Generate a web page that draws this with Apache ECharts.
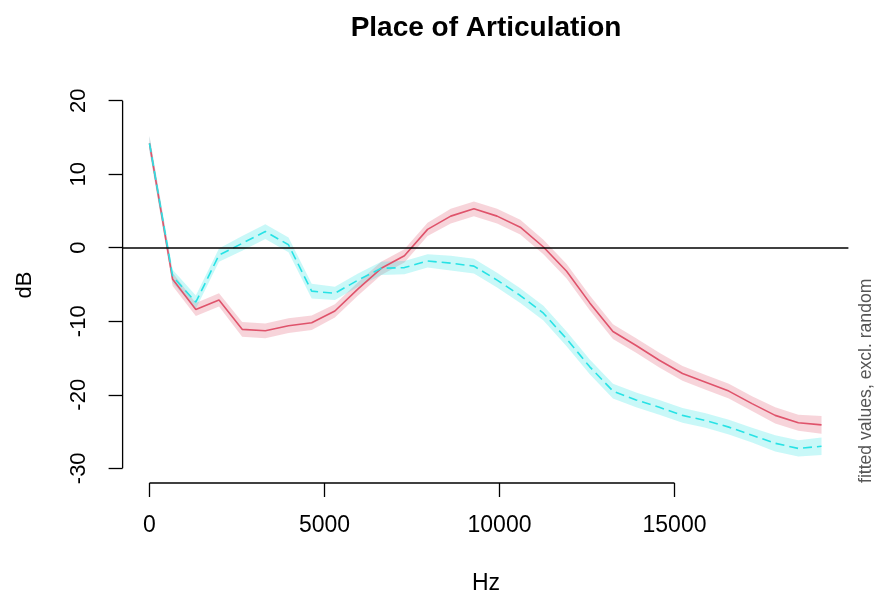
<!DOCTYPE html>
<html>
<head>
<meta charset="utf-8">
<script src="https://cdn.jsdelivr.net/npm/echarts@6/dist/echarts.min.js"></script>
<style>
html,body{margin:0;padding:0;background:#fff;}
#chart{width:875px;height:594px;}
</style>
</head>
<body>
<div id="chart"></div>
<script>
// ---- data ----
var hz = [0, 662, 1324, 1986, 2648, 3310, 3972, 4634, 5297, 5959,
          6621, 7283, 7945, 8607, 9269, 9931, 10593, 11255, 11917, 12579,
          13241, 13903, 14566, 15228, 15890, 16552, 17214, 17876, 18538, 19200];
var redFit = [14.2, -4.3, -8.4, -7.1, -11.1, -11.3, -10.6, -10.2, -8.6, -5.6,
              -2.8, -1.1, 2.5, 4.3, 5.3, 4.3, 2.8, 0.1, -3.2, -7.5,
              -11.4, -13.3, -15.3, -17.1, -18.3, -19.5, -21.2, -22.8, -23.8, -24.1];
var redCI = [1.0, 0.9, 0.9, 0.9, 1.0, 1.0, 1.0, 1.0, 0.9, 0.9,
             0.9, 0.9, 0.9, 1.0, 1.0, 1.0, 1.0, 1.0, 1.0, 1.0,
             1.0, 1.0, 1.0, 1.0, 1.0, 1.0, 1.0, 1.1, 1.1, 1.2];
var cyanFit = [14.2, -3.9, -7.4, -1.0, 0.6, 2.2, 0.4, -5.9, -6.2, -4.4,
               -2.8, -2.7, -1.8, -2.1, -2.5, -4.4, -6.5, -8.9, -12.4, -16.2,
               -19.5, -20.7, -21.7, -22.8, -23.5, -24.4, -25.5, -26.6, -27.3, -27.0];
var cyanCI = [1.0, 0.9, 0.9, 0.9, 1.0, 1.0, 1.0, 1.0, 0.9, 0.9,
              0.9, 0.9, 0.9, 1.0, 1.0, 1.0, 1.0, 1.0, 1.0, 1.0,
              1.0, 1.0, 1.0, 1.0, 1.0, 1.0, 1.0, 1.1, 1.1, 1.2];
var xTicks = [0, 5000, 10000, 15000];
var yTicks = [-30, -20, -10, 0, 10, 20];
var titleText = 'Place of Articulation';
var xName = 'Hz';
var yName = 'dB';
var sideNote = 'fitted values, excl. random';

// ---- layout ----
var XMIN = -768, XMAX = 19968, YMIN = -32, YMAX = 22;
var FONT = '"Liberation Sans", Arial, Helvetica, sans-serif';
var RED = '#DF536B', CYAN = '#28E2E5';

function pairs(xs, ys) { return xs.map(function (x, i) { return [x, ys[i]]; }); }

var chart = echarts.init(document.getElementById('chart'), null, {renderer: 'canvas'});

function band(name, fit, ci, color) {
  var data = hz.map(function (x, i) { return [x, fit[i] - ci[i], fit[i] + ci[i]]; });
  return {
    name: name + 'band', type: 'custom', silent: true, z: 1,
    encode: {x: 0, y: [1, 2]},
    data: data,
    renderItem: function (params, api) {
      if (params.dataIndex !== 0) return null;
      var pts = [], i;
      for (i = 0; i < data.length; i++) pts.push(api.coord([data[i][0], data[i][2]]));
      for (i = data.length - 1; i >= 0; i--) pts.push(api.coord([data[i][0], data[i][1]]));
      return {type: 'polygon', shape: {points: pts}, style: {fill: color, stroke: null}};
    }
  };
}

var series = [
  band('red', redFit, redCI, 'rgba(223,83,107,0.25)'),
  band('cyan', cyanFit, cyanCI, 'rgba(40,226,229,0.25)'),
  {
    name: 'zero', type: 'line', data: [], silent: true,
    markLine: {
      silent: true, symbol: ['none', 'none'], label: {show: false},
      lineStyle: {color: '#000', width: 1.5, type: 'solid'},
      data: [{yAxis: 0}], animation: false
    }, z: 2
  },
  {
    name: 'red', type: 'line', data: pairs(hz, redFit), symbol: 'none',
    lineStyle: {color: RED, width: 1.6}, z: 3
  },
  {
    name: 'cyan', type: 'line', data: pairs(hz, cyanFit), symbol: 'none',
    lineStyle: {color: CYAN, width: 1.6, type: [9, 5]}, z: 4
  },
  {
    name: 'xaxisline', type: 'line', symbol: 'none', silent: true, clip: false,
    data: [[xTicks[0], YMIN], [xTicks[xTicks.length - 1], YMIN]],
    lineStyle: {color: '#000', width: 1.3}, z: 5
  },
  {
    name: 'yaxisline', type: 'line', symbol: 'none', silent: true, clip: false,
    data: [[XMIN, yTicks[0]], [XMIN, yTicks[yTicks.length - 1]]],
    lineStyle: {color: '#000', width: 1.3}, z: 5
  }
];

chart.setOption({
  animation: false,
  backgroundColor: '#fff',
  textStyle: {fontFamily: FONT},
  grid: {left: 122.6, right: 26.6, top: 86, bottom: 111, containLabel: false},
  xAxis: {
    type: 'value', min: XMIN, max: XMAX,
    axisLine: {show: false, onZero: false},
    splitLine: {show: false},
    axisTick: {show: true, inside: false, length: 14, customValues: xTicks,
               lineStyle: {color: '#000', width: 1.3}},
    axisLabel: {show: true, customValues: xTicks, margin: 31, color: '#000',
                fontSize: 23, fontFamily: FONT,
                formatter: function (v) { return String(v); }}
  },
  yAxis: {
    type: 'value', min: YMIN, max: YMAX,
    axisLine: {show: false, onZero: false},
    splitLine: {show: false},
    axisTick: {show: true, inside: false, length: 14, customValues: yTicks,
               lineStyle: {color: '#000', width: 1.3}},
    axisLabel: {show: true, customValues: yTicks, margin: 33, rotate: 90, color: '#000',
                fontSize: 22, fontFamily: FONT,
                formatter: function (v) { return String(v); }}
  },
  graphic: [
    {type: 'text', x: 486, y: 28, style: {text: titleText, fontSize: 28, fontWeight: 'bold',
      fontFamily: FONT, fill: '#000', textAlign: 'center', textVerticalAlign: 'middle'}},
    {type: 'text', x: 486, y: 584, style: {text: xName, fontSize: 23,
      fontFamily: FONT, fill: '#000', textAlign: 'center', textVerticalAlign: 'middle'}},
    {type: 'text', x: 25, y: 285, rotation: Math.PI / 2, style: {text: yName, fontSize: 22,
      fontFamily: FONT, fill: '#000', textAlign: 'center', textVerticalAlign: 'middle'}},
    {type: 'text', x: 866, y: 483, rotation: Math.PI / 2, style: {text: sideNote, fontSize: 17.6,
      fontFamily: FONT, fill: '#555', textAlign: 'left', textVerticalAlign: 'middle'}}
  ],
  series: series
});
</script>
</body>
</html>
